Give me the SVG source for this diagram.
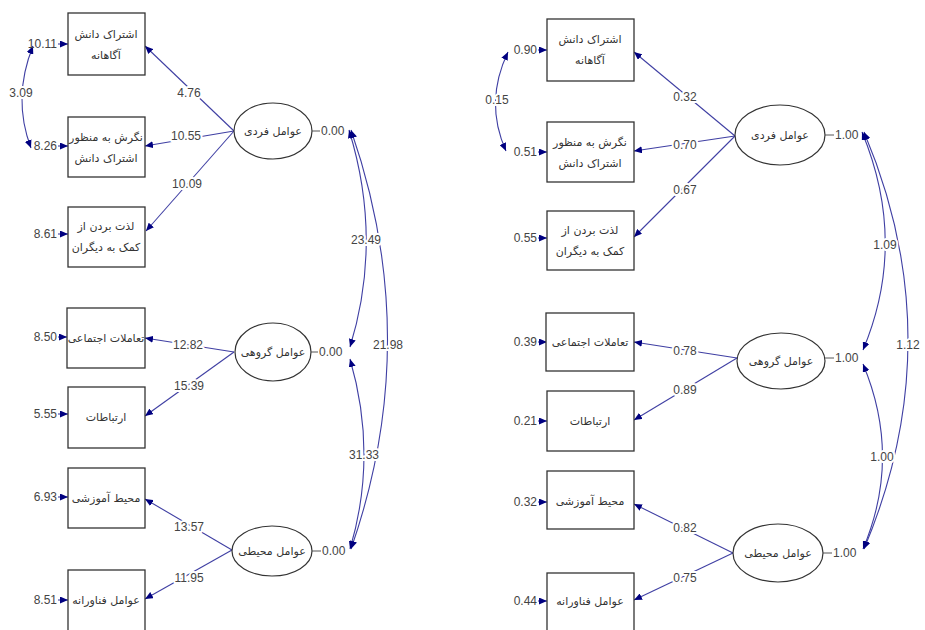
<svg xmlns="http://www.w3.org/2000/svg" width="925" height="630" viewBox="0 0 925 630">
<defs>
<marker id="ah" markerUnits="userSpaceOnUse" markerWidth="9" markerHeight="7" refX="8" refY="3.5" orient="auto-start-reverse">
<path d="M0,0 L8,3.5 L0,7 z" fill="#000080"/>
</marker>
<style>
.box{fill:#fff;stroke:#333;stroke-width:1.3}
.ell{fill:#fff;stroke:#333;stroke-width:1.2}
.fa{font-family:"DejaVu Sans",sans-serif;font-size:11px;fill:#333;text-anchor:middle;direction:rtl}
.num{font-family:"Liberation Sans",Arial,sans-serif;font-size:12px;fill:#444}
.lbl{font-family:"Liberation Sans",Arial,sans-serif;font-size:12px;fill:#444;text-anchor:middle;stroke:#fff;stroke-width:4;paint-order:stroke;stroke-linejoin:round}
.r{text-anchor:end}
.c{fill:none;stroke:#3f3fa3;stroke-width:1.1}
.a{marker-end:url(#ah)}
.b{marker-start:url(#ah);marker-end:url(#ah)}
.tick{stroke:#555;stroke-width:1}
</style>
</defs>
<rect width="925" height="630" fill="#fff"/>

<!-- connectors -->
<g id="connectors">
<!-- left: errors -->
<line class="c a" x1="58" y1="44" x2="68" y2="44"/>
<line class="c a" x1="58" y1="146" x2="68" y2="146"/>
<line class="c a" x1="58" y1="234" x2="68" y2="234"/>
<line class="c a" x1="58" y1="337" x2="67" y2="337"/>
<line class="c a" x1="58" y1="414" x2="68" y2="414"/>
<line class="c a" x1="58" y1="497" x2="68" y2="497"/>
<line class="c a" x1="58" y1="600" x2="68" y2="600"/>
<path class="c b" d="M33,46 Q12,98 31,148"/>
<!-- left: loadings -->
<line class="c a" x1="234" y1="131" x2="145" y2="46"/>
<line class="c a" x1="234" y1="131" x2="145" y2="146"/>
<line class="c a" x1="234" y1="131" x2="146" y2="231"/>
<line class="c a" x1="234" y1="352" x2="145" y2="338"/>
<line class="c a" x1="234" y1="352" x2="145" y2="416"/>
<line class="c a" x1="232" y1="550" x2="145" y2="499"/>
<line class="c a" x1="232" y1="550" x2="145" y2="599"/>
<!-- left: latent covariances -->
<path class="c b" d="M349,130 Q383,240 350,347"/>
<path class="c b" d="M351,130 Q424,340 351,549"/>
<path class="c b" d="M350,359 Q378,455 350,549"/>
<!-- right: errors -->
<line class="c a" x1="538" y1="50" x2="547" y2="50"/>
<line class="c a" x1="538" y1="152" x2="547" y2="152"/>
<line class="c a" x1="538" y1="238" x2="547" y2="238"/>
<line class="c a" x1="538" y1="342" x2="547" y2="342"/>
<line class="c a" x1="538" y1="421" x2="547" y2="421"/>
<line class="c a" x1="538" y1="502" x2="547" y2="502"/>
<line class="c a" x1="538" y1="601" x2="547" y2="601"/>
<path class="c b" d="M508,52 Q484,102 506,151"/>
<!-- right: loadings -->
<line class="c a" x1="735" y1="136" x2="634" y2="52"/>
<line class="c a" x1="735" y1="136" x2="634" y2="151"/>
<line class="c a" x1="735" y1="136" x2="634" y2="237"/>
<line class="c a" x1="737" y1="358" x2="634" y2="342"/>
<line class="c a" x1="737" y1="358" x2="634" y2="420"/>
<line class="c a" x1="733" y1="553" x2="634" y2="504"/>
<line class="c a" x1="733" y1="553" x2="634" y2="600"/>
<!-- right: latent covariances -->
<path class="c b" d="M862,132 Q908,243 863,350"/>
<path class="c b" d="M864,132 Q952,340 864,549"/>
<path class="c b" d="M863,364 Q902,457 863,549"/>
</g>

<!-- connector labels -->
<g id="connector-labels">
<text class="lbl" x="189" y="97">4.76</text>
<text class="lbl" x="186" y="140">10.55</text>
<text class="lbl" x="187" y="188">10.09</text>
<text class="lbl" x="188" y="349">12.82</text>
<text class="lbl" x="189" y="390">15.39</text>
<text class="lbl" x="189" y="531">13.57</text>
<text class="lbl" x="189" y="582">11.95</text>
<text class="lbl" x="21" y="97">3.09</text>
<text class="lbl" x="366" y="244">23.49</text>
<text class="lbl" x="388" y="349">21.98</text>
<text class="lbl" x="364" y="459">31.33</text>
<text class="lbl" x="685" y="101">0.32</text>
<text class="lbl" x="685" y="149">0.70</text>
<text class="lbl" x="685" y="194">0.67</text>
<text class="lbl" x="685" y="355">0.78</text>
<text class="lbl" x="685" y="394">0.89</text>
<text class="lbl" x="685" y="532">0.82</text>
<text class="lbl" x="685" y="582">0.75</text>
<text class="lbl" x="497" y="104">0.15</text>
<text class="lbl" x="885" y="249">1.09</text>
<text class="lbl" x="908" y="349">1.12</text>
<text class="lbl" x="882" y="461">1.00</text>
</g>

<!-- error values -->
<g id="error-values">
<text class="num r" x="57" y="48">10.11</text>
<text class="num r" x="57" y="150">8.26</text>
<text class="num r" x="57" y="238">8.61</text>
<text class="num r" x="57" y="341">8.50</text>
<text class="num r" x="57" y="418">5.55</text>
<text class="num r" x="57" y="501">6.93</text>
<text class="num r" x="57" y="604">8.51</text>
<text class="num r" x="537" y="54">0.90</text>
<text class="num r" x="537" y="156">0.51</text>
<text class="num r" x="537" y="242">0.55</text>
<text class="num r" x="537" y="346">0.39</text>
<text class="num r" x="537" y="425">0.21</text>
<text class="num r" x="537" y="506">0.32</text>
<text class="num r" x="537" y="605">0.44</text>
</g>

<!-- left model -->
<g id="L-obs1"><rect class="box" x="68" y="13" width="77" height="62"/><text class="fa" x="106" y="38">اشتراک دانش</text><text class="fa" x="106" y="59">آگاهانه</text></g>
<g id="L-obs2"><rect class="box" x="68" y="117" width="77" height="60"/><text class="fa" x="106" y="141">نگرش به منظور</text><text class="fa" x="106" y="162">اشتراک دانش</text></g>
<g id="L-obs3"><rect class="box" x="68" y="207" width="77" height="60"/><text class="fa" x="106" y="230">لذت بردن از</text><text class="fa" x="106" y="251">کمک به دیگران</text></g>
<g id="L-obs4"><rect class="box" x="67" y="308" width="78" height="60"/><text class="fa" x="106" y="342">تعاملات اجتماعی</text></g>
<g id="L-obs5"><rect class="box" x="68" y="387" width="77" height="61"/><text class="fa" x="106" y="421">ارتباطات</text></g>
<g id="L-obs6"><rect class="box" x="68" y="468" width="77" height="60"/><text class="fa" x="106" y="502">محیط آموزشی</text></g>
<g id="L-obs7"><rect class="box" x="68" y="570" width="77" height="64"/><text class="fa" x="106" y="604">عوامل فناورانه</text></g>

<g id="L-lat1"><ellipse class="ell" cx="273" cy="131" rx="39" ry="28"/><text class="fa" x="273" y="135">عوامل فردی</text><line class="tick" x1="312" y1="131" x2="320" y2="131"/><text class="num" x="321" y="135">0.00</text></g>
<g id="L-lat2"><ellipse class="ell" cx="273" cy="352" rx="38" ry="29"/><text class="fa" x="273" y="356">عوامل گروهی</text><line class="tick" x1="311" y1="352" x2="318" y2="352"/><text class="num" x="319" y="356">0.00</text></g>
<g id="L-lat3"><ellipse class="ell" cx="272" cy="551" rx="40" ry="25"/><text class="fa" x="272" y="555">عوامل محیطی</text><line class="tick" x1="312" y1="551" x2="321" y2="551"/><text class="num" x="322" y="555">0.00</text></g>

<!-- right model -->
<g id="R-obs1"><rect class="box" x="547" y="19" width="87" height="62"/><text class="fa" x="590" y="43">اشتراک دانش</text><text class="fa" x="590" y="64">آگاهانه</text></g>
<g id="R-obs2"><rect class="box" x="547" y="122" width="87" height="60"/><text class="fa" x="590" y="146">نگرش به منظور</text><text class="fa" x="590" y="167">اشتراک دانش</text></g>
<g id="R-obs3"><rect class="box" x="547" y="211" width="87" height="59"/><text class="fa" x="590" y="234">لذت بردن از</text><text class="fa" x="590" y="255">کمک به دیگران</text></g>
<g id="R-obs4"><rect class="box" x="546" y="313" width="88" height="58"/><text class="fa" x="590" y="346">تعاملات اجتماعی</text></g>
<g id="R-obs5"><rect class="box" x="547" y="391" width="87" height="60"/><text class="fa" x="590" y="425">ارتباطات</text></g>
<g id="R-obs6"><rect class="box" x="547" y="471" width="87" height="58"/><text class="fa" x="590" y="505">محیط آموزشی</text></g>
<g id="R-obs7"><rect class="box" x="547" y="573" width="87" height="62"/><text class="fa" x="590" y="605">عوامل فناورانه</text></g>

<g id="R-lat1"><ellipse class="ell" cx="780" cy="135" rx="45" ry="30"/><text class="fa" x="780" y="139">عوامل فردی</text><line class="tick" x1="825" y1="135" x2="834" y2="135"/><text class="num" x="835" y="139">1.00</text></g>
<g id="R-lat2"><ellipse class="ell" cx="781" cy="361" rx="44" ry="28"/><text class="fa" x="781" y="365">عوامل گروهی</text><line class="tick" x1="825" y1="358" x2="834" y2="358"/><text class="num" x="835" y="362">1.00</text></g>
<g id="R-lat3"><ellipse class="ell" cx="778" cy="553" rx="45" ry="29"/><text class="fa" x="778" y="557">عوامل محیطی</text><line class="tick" x1="823" y1="553" x2="832" y2="553"/><text class="num" x="833" y="557">1.00</text></g>
</svg>
